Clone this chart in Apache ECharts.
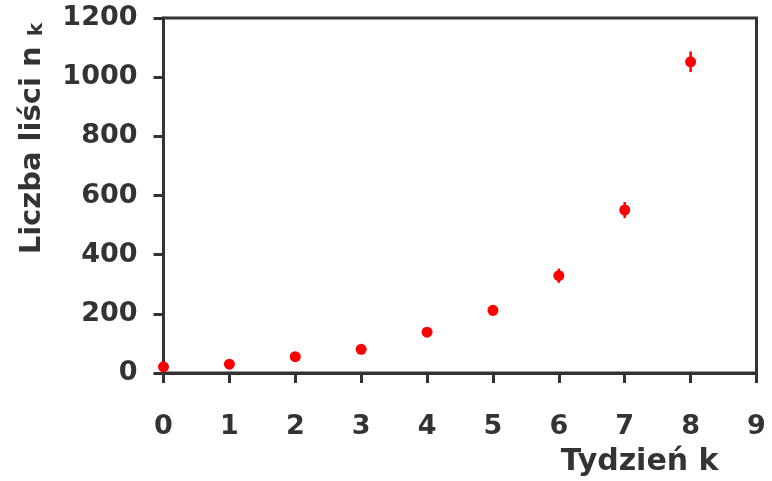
<!DOCTYPE html>
<html>
<head>
<meta charset="utf-8">
<script src="https://cdn.jsdelivr.net/npm/echarts@6/dist/echarts.min.js"></script>
<style>
  html, body { margin: 0; padding: 0; background: #fff; }
  #chart { width: 772px; height: 481px; }
</style>
</head>
<body>
<div id="chart"></div>
<script>
// dane
const weeks = [0, 1, 2, 3, 4, 5, 6, 7, 8]
const leafCounts = [21, 30, 55, 80, 138, 212, 329, 551, 1052]
const leafErrors = [5, 5, 6, 8, 10, 18, 24, 27, 35]
const yTicks = [0, 200, 400, 600, 800, 1000, 1200]
const xTicks = [0, 1, 2, 3, 4, 5, 6, 7, 8, 9]

const textColor = '#333333'
const lineColor = '#333333'
const dotColor = '#ff0000'
const fontFamily = '"DejaVu Sans", Verdana, sans-serif'

const points = weeks.map((k, i) => [k, leafCounts[i]])
const bars = weeks.map((k, i) => [k, leafCounts[i] - leafErrors[i], leafCounts[i] + leafErrors[i]])

const chart = echarts.init(document.getElementById('chart'), null, { renderer: 'canvas' })

const option = {
  backgroundColor: '#fff',
  animation: false,
  grid: {
    left: 163.5,
    right: 15.5,
    top: 18,
    bottom: 108,
    show: true,
    borderColor: lineColor,
    borderWidth: 3,
    backgroundColor: 'transparent'
  },
  xAxis: {
    type: 'value',
    min: xTicks[0],
    max: xTicks[xTicks.length - 1],
    interval: 1,
    splitLine: { show: false },
    axisLine: { show: true, onZero: false, lineStyle: { color: lineColor, width: 3 } },
    axisTick: { show: true, inside: false, length: 10, lineStyle: { color: lineColor, width: 3 } },
    axisLabel: {
      color: textColor,
      fontFamily: fontFamily,
      fontWeight: 'bold',
      fontSize: 27,
      margin: 40
    },
    name: 'Tydzień k',
    nameLocation: 'end',
    nameGap: 0,
    nameTextStyle: {
      color: textColor,
      fontFamily: fontFamily,
      fontWeight: 'bold',
      fontSize: 30,
      align: 'right',
      verticalAlign: 'top',
      padding: [74, 38, 0, 0]
    }
  },
  yAxis: {
    type: 'value',
    min: yTicks[0],
    max: yTicks[yTicks.length - 1],
    interval: 200,
    splitLine: { show: false },
    axisLine: { show: true, onZero: false, lineStyle: { color: lineColor, width: 3 } },
    axisTick: { show: true, inside: false, length: 10, lineStyle: { color: lineColor, width: 3 } },
    axisLabel: {
      color: textColor,
      fontFamily: fontFamily,
      fontWeight: 'bold',
      fontSize: 27,
      margin: 26,
      formatter: v => String(v)
    }
  },
  graphic: [
    {
      type: 'text',
      left: 18,
      top: 23,
      rotation: Math.PI / 2,
      style: {
        text: '{m|Liczba liści n }{s|k}',
        fill: textColor,
        rich: {
          m: { fontFamily: fontFamily, fontWeight: 'bold', fontSize: 29, fill: textColor, verticalAlign: 'bottom' },
          s: { fontFamily: fontFamily, fontWeight: 'bold', fontSize: 20, fill: textColor, verticalAlign: 'bottom' }
        }
      }
    }
  ],
  series: [
    {
      type: 'custom',
      z: 2,
      renderItem: function (params, api) {
        const x = api.value(0)
        const lo = api.coord([x, api.value(1)])
        const hi = api.coord([x, api.value(2)])
        return {
          type: 'line',
          shape: { x1: lo[0], y1: lo[1], x2: hi[0], y2: hi[1] },
          style: { stroke: dotColor, lineWidth: 2.5 }
        }
      },
      encode: { x: 0, y: [1, 2] },
      data: bars
    },
    {
      type: 'scatter',
      z: 3,
      symbol: 'circle',
      symbolSize: 11,
      itemStyle: { color: dotColor, opacity: 1 },
      data: points
    }
  ]
}

chart.setOption(option)
</script>
</body>
</html>
